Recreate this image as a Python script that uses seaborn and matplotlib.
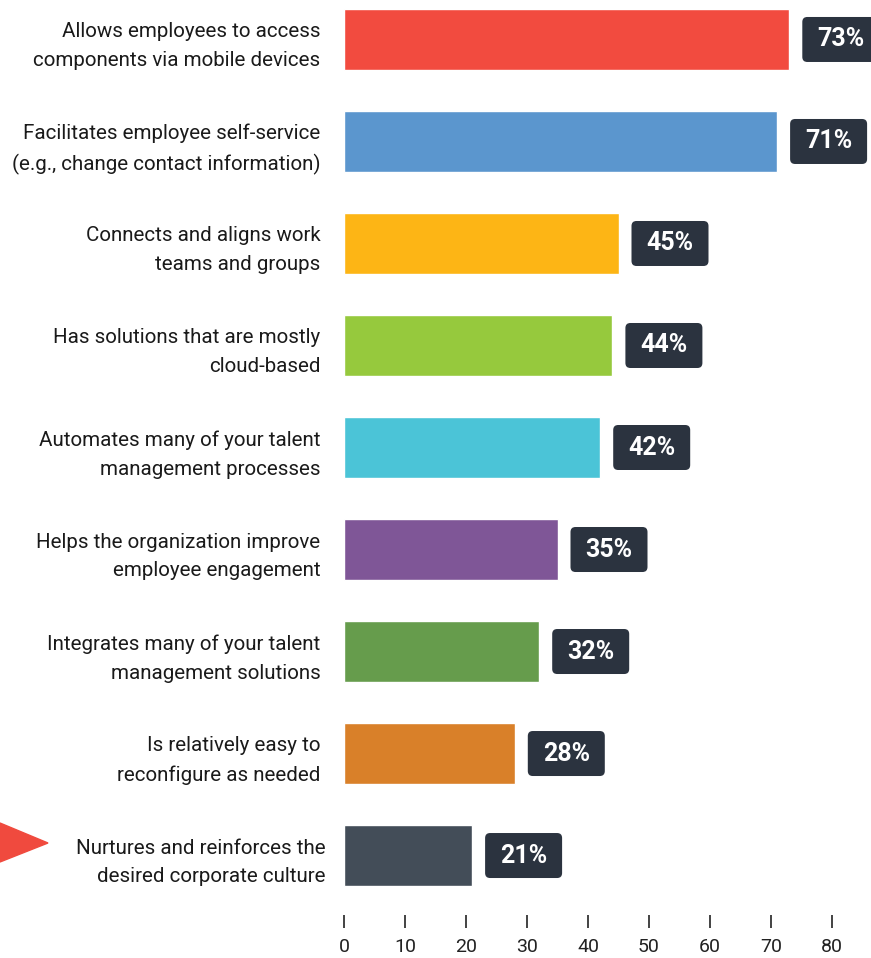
import matplotlib
matplotlib.use("Agg")
import matplotlib.pyplot as plt
from matplotlib.patches import Polygon, FancyBboxPatch
import matplotlib.transforms as mtransforms
import seaborn as sns
import pandas as pd

categories = [
    "Allows employees to access\ncomponents via mobile devices",
    "Facilitates employee self-service\n(e.g., change contact information)",
    "Connects and aligns work\nteams and groups",
    "Has solutions that are mostly\ncloud-based",
    "Automates many of your talent\nmanagement processes",
    "Helps the organization improve\nemployee engagement",
    "Integrates many of your talent\nmanagement solutions",
    "Is relatively easy to\nreconfigure as needed",
    "Nurtures and reinforces the\ndesired corporate culture",
]
values = [73, 71, 45, 44, 42, 35, 32, 28, 21]
colors = ["#F24B3F", "#5B96CE", "#FDB515", "#96C93D", "#4BC4D7",
          "#7F5697", "#669C4C", "#D98029", "#434D58"]
x_ticks = [0, 10, 20, 30, 40, 50, 60, 70, 80]

sns.set_theme(style="white")
plt.rcParams["font.family"] = ["Roboto", "DejaVu Sans"]

W, H = 871, 958
fig = plt.figure(figsize=(W / 100, H / 100), dpi=100)
ax = fig.add_axes([344 / W, 1 - 900 / H, (832 - 344) / W, 900 / H])

df = pd.DataFrame({"category": categories, "value": values})
sns.barplot(data=df, x="value", y="category", hue="category",
            palette=colors, width=0.6, orient="h", legend=False,
            saturation=1, ax=ax)

ax.set_xlim(0, 80)
ax.set_ylim(8.436, -0.387)
ax.set_xlabel("")
ax.set_ylabel("")
ax.set_xticks(x_ticks)
ax.set_xticklabels([str(t) for t in x_ticks])

for s in ["top", "right", "left"]:
    ax.spines[s].set_visible(False)
ax.spines["bottom"].set_position(("outward", 10.8))
ax.spines["bottom"].set_visible(False)

ax.tick_params(axis="x", direction="out", length=9.4, width=1.2,
               color="#222222", labelsize=14, labelcolor="#222222",
               pad=7, bottom=True)
ax.tick_params(axis="y", length=0, pad=17, labelsize=14.8,
               labelcolor="#1a1a1a")
ylabels = ax.get_yticklabels()
for lab in ylabels:
    lab.set_linespacing(1.65)
    lab.set_horizontalalignment("right")
# the highlighted last category sits a little further right
ylabels[-1].set_transform(ylabels[-1].get_transform() +
                          mtransforms.ScaledTranslation(5 / 100, 0, fig.dpi_scale_trans))

# value badges to the right of each bar
px_x = 80 / (832 - 344)          # data units per pixel, x
px_y = (8.436 + 0.387) / 900     # data units per pixel, y
badge_w, badge_h, gap = 77 * px_x, 45 * px_y, 13 * px_x
for i, v in enumerate(values):
    box = FancyBboxPatch((v + gap, i - badge_h / 2), badge_w, badge_h,
                         boxstyle=f"round,pad=0,rounding_size={5 * px_x}",
                         mutation_aspect=px_y / px_x,
                         fc="#2B333F", ec="none", clip_on=False, zorder=3)
    ax.add_patch(box)
    ax.text(v + gap + badge_w / 2, i, f"{v}%", ha="center", va="center",
            fontsize=18, fontweight="bold", color="white",
            clip_on=False, zorder=4)

# marker pointing to the last category
tri = Polygon([[0 / W, 1 - 823 / H], [48 / W, 1 - 843 / H], [0 / W, 1 - 862 / H]],
              closed=True, transform=fig.transFigure, color="#F04A3E",
              clip_on=False)
fig.patches.append(tri)

fig.savefig("out.png", dpi=100)
